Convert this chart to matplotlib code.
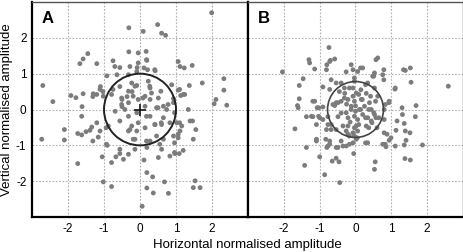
import matplotlib
matplotlib.use("Agg")
import matplotlib.pyplot as plt
from matplotlib.patches import Circle

plt.rcParams['font.family'] = ['Liberation Sans', 'DejaVu Sans']
plt.rcParams['axes.unicode_minus'] = False

# Panel A points (horizontal, vertical normalised amplitude)
a_x = [-0.31, 1.99, 0.49, 0.09, 0.6, 0.71,
       -0.31, -0.05, 0.17, -1.45, -1.58, -1.67, -1.2, -0.75, -0.7, -0.56, -0.28, -0.08, 0.19, -0.05, 0.11, 0.21, 0.42, 1.06, 1.11, 1.23, 1.45, -0.92, -0.64, -0.09, -0.32, 0.18, 0.41,
       -2.7, -2.42, -1.92, -1.78, -1.58, -1.31, -1.3, -1.1, -1.03, -0.75, -0.56, -0.5, -0.36, -0.22, -0.5, -1.61, -1.11, -1.02, -1.2, -0.79, -0.51, -0.32, -0.14, -0.51, -0.32, -0.42, -0.69, -0.32, -0.09,
       2.33, 1.73, 1.37, 1.06, 1.2, 1.13, 0.88, 2.33, 2.11, 2.06, 2.41, 1.34, 0.58, 0.93, 0.93, 1.1, 1.24,
       -0.23, -0.09, 0.23, 0.28, 0.32, 0.14, -0.19, -0.05, 0.28, 0.51, 0.65, 0.46, 0.74, 0.28, 0.14, 0.27, 0.08, 0.5, 0.78, 0.96, 0.18,
       -1.62, -2.1, -2.73, -2.1, -1.73, -1.62, -1.5, -1.39, -1.34, -1.2, -1.11, -1.16, -1.31, -0.94, -0.91, -1.05, -0.79, -0.67, -0.56, -0.46, -0.32, -1.73, -1.02, -0.79, -0.56, -0.32, -0.19, -0.88, -0.23, -0.28, -0.09, -0.14, -0.93, -0.56,
       1.39, 1.46, 1.55, 1.48, 1.2, 1.09, 0.97, 0.83, 0.6, 0.51, 0.11, 0.19, 0.35, 0.68, 0.19, 0.37, 0.79, 1.53, 1.48, 1.67, 0.06, 1.11, 1.06, 0.93, 1.02, 1.16, 0.65, 0.46, 0.28, 0.19, -0.14, 0.83, 0.6, 0.42, 0.14, -0.05, 0.65, 0.41, 0.59, 1.1, 1.06, 0.18, 0.55, 0.96, 0.96]
a_y = [2.28, 2.7, 2.37, 2.18, 2.13, 2.07,
       1.61, 1.58, 1.62, 1.56, 1.41, 1.28, 1.28, 1.36, 1.2, 1.17, 1.2, 1.17, 1.37, 1.3, 1.16, 1.11, 1.08, 1.34, 1.2, 1.16, 1.23, 0.94, 0.97, 1.06, 0.97, 1.39, 1.11,
       0.67, 0.22, 0.39, 0.33, 0.44, 0.36, 0.44, 0.64, 0.5, 0.56, 0.64, 0.28, 0.36, 0.5, 0.08, 0.08, 0.56, 0.37, 0.42, 0.42, 0.32, 0.51, 0.65, 0.14, 0.19, 0.0, -0.05, -0.19, -0.09,
       0.86, 0.74, 0.67, 0.54, 0.42, 0.39, 0.69, 0.54, 0.28, 0.16, 0.12, 0.0, 0.51, 0.3, 0.19, 0.56, 0.42,
       0.74, 0.67, 0.79, 0.6, 0.46, 0.37, 0.37, 0.28, 0.28, 0.32, 0.09, 0.05, 0.0, -0.19, 0.09, 0.65, 0.32, 0.05, 0.14, -0.09, -0.19,
       -0.19, -0.56, -0.83, -0.85, -0.67, -0.71, -0.62, -0.58, -0.49, -0.37, -0.6, -0.77, -0.88, -0.51, -1.0, -1.32, -1.48, -1.32, -1.23, -1.39, -1.25, -1.51, -2.02, -2.15, -0.32, -0.6, -0.83, -0.46, -0.46, -0.56, -0.6, -0.83, -0.97, -1.11,
       -0.32, -0.32, -0.56, -0.83, -1.14, -1.23, -1.23, -1.3, -1.11, -1.34, -1.41, -1.76, -1.88, -2.02, -2.19, -2.33, -2.34, -1.99, -2.18, -2.18, -2.7, -0.6, -0.79, -0.74, -0.37, -0.46, -0.83, -0.74, -0.88, -1.06, -1.11, -0.37, -0.42, -0.42, -0.51, -0.37, -0.23, -0.42, -0.37, -0.37, -0.69, -0.88, -0.97, -0.93, -1.2]

# Panel B points
b_x = [-0.74, -1.3, -1.28, -0.7, -0.58, -0.8, -1.14, -2.04, -0.26, -1.46, -1.57, -0.68, -0.54, -0.4, -0.91, -0.72, -1.57, -1.19, -1.62, -1.6, -1.07, -0.91, -0.58, -0.49, -0.4, -0.31, -1.37, -1.19, -1.0, -0.77, -0.49,
       -1.69, -1.09, -0.77, -0.68, -1.09, -0.83, -0.72, -0.8, -0.49, -0.35, -1.37, -1.0, -1.42, -0.65, -0.54, -0.46, -0.86, -0.44, -0.17, -0.07, -0.26,
       0.62, 0.57, 1.39, 1.53, 1.55, 1.1, 2.59, 1.69, 1.31, 1.67, 0.94, 0.8, 0.76, 0.79, 0.53, 0.48, 0.2, 0.06, -0.07, -0.03, 0.34, 0.53, 0.62, 0.16,
       -0.17, -0.07, 0.02, -0.21, -0.12, 0.11, 0.25, 0.39, 0.44, 0.53, -0.26, -0.03, 0.2, 0.34,
       1.36, 1.13, 1.52, 1.41, 1.36, 1.87, 1.38, 1.53, 0.55, 0.53, -0.05, 0.99, 0.94, 0.8, 0.76, 0.85, 0.34, 0.3, 0.44, 0.57, 0.8, -0.21, 0.02, 0.06, -0.07, 0.02, -0.26, 0.06,
       -0.72, -0.81, -0.12, -1.14, -1.03, -0.63, -0.54, -1.23, -1.03, -0.91, -0.68, -0.81, -0.54, -0.35, -0.21, -0.12, -0.03, -0.07, -0.03, -0.31, -1.09, -0.72, -0.77, -0.54, -0.4, -0.17, -0.21, -0.03, -0.03,
       0.14, 0.79, 1.34, 1.11, 0.51, 0.28, 0.93, 0.83, 1.3, 1.16, 1.39, 0.88, 0.83, 0.28, 0.05, 1.11,
       0.09, 0.19, 0.42, 0.56, 0.14, 0.37, 0.51, 0.28, 0.09, 0.46, 0.65, 0.37, 0.6,
       -0.3, -0.45, -0.25, 0.0, -0.15, 0.15, 0.3, -0.4, 0.0]
b_y = [1.73, 1.39, 1.3, 1.37, 1.41, 1.25, 1.13, 1.05, 1.05, 0.86, 0.67, 0.83, 0.74, 0.74, 0.63, 0.56, 0.3, 0.23, 0.11, 0.05, 0.05, 0.07, 0.11, 0.19, 0.23, 0.32, -0.2, -0.2, -0.23, -0.2, -0.2,
       -0.54, -0.42, -0.42, -0.56, -0.88, -0.83, -0.97, -1.06, -1.06, -1.02, -1.06, -1.32, -1.56, -1.44, -1.36, -1.46, -1.82, -2.04, -0.74, -0.93, -0.6,
       1.44, 1.39, 1.09, 1.16, 0.76, 0.57, 0.65, 0.11, -0.14, -0.2, 0.23, 0.0, 0.97, 0.83, 1.02, 0.93, 1.16, 1.06, 1.11, 0.88, 0.74, 0.6, 0.37, 0.28,
       0.6, 0.37, 0.46, 0.28, 0.09, 0.0, 0.09, 0.19, 0.0, -0.14, -0.09, -0.19, -0.14, -0.23,
       -0.39, -0.58, -0.65, -0.86, -0.99, -0.99, -1.37, -1.41, -1.46, -1.67, -1.23, -0.79, -0.86, -0.65, -0.97, -1.04, -0.93, -0.46, -0.32, -0.23, -0.28, -0.46, -0.46, -0.6, -0.65, -0.83, -1.02, -0.28,
       1.34, 1.11, 1.25, 0.23, 0.05, 0.14, 0.19, -0.19, -0.19, -0.28, -0.42, -0.56, -0.56, -0.46, -0.23, 0.0, 0.23, 0.6, 0.79, 0.6, -0.83, -0.88, -1.02, -1.06, -0.88, -0.97, -0.69, -0.74, -0.51,
       1.16, 1.11, 1.11, 0.6, 0.93, 0.69, 0.19, 0.14, 0.05, -0.32, -0.6, -0.69, -0.97, -0.93, -0.79, -1.02,
       0.42, 0.28, 0.37, 0.23, 0.0, 0.0, -0.09, -0.23, -0.42, -0.37, -0.23, -0.51, -0.51,
       0.45, 0.5, 0.15, 0.1, -0.35, 0.55, 0.45, -0.1, -0.05]

ticks = [-2, -1, 0, 1, 2]
circle_a = (0.0, 0.0, 1.0)
circle_b = (0.0, 0.0, 0.78)

fig = plt.figure(figsize=(4.64, 2.52), dpi=100)
axA = fig.add_axes([32/464, 1-217/252, 216/464, 215/252])
axB = fig.add_axes([248/464, 1-217/252, 215/464, 215/252])

pt_color = '#7c7c7c'
for ax, xs, ys, circ, label in [(axA, a_x, a_y, circle_a, 'A'), (axB, b_x, b_y, circle_b, 'B')]:
    ax.set_xlim(-3, 3)
    ax.set_ylim(-3, 3)
    ax.set_xticks(ticks)
    ax.set_yticks(ticks)
    ax.grid(True, color='#b0b0b0', linestyle=(0, (1.5, 1.5)), linewidth=0.8)
    ax.set_axisbelow(True)
    ax.scatter(xs, ys, s=12, color=pt_color, edgecolors='none', zorder=3)
    ax.add_patch(Circle((circ[0], circ[1]), circ[2], fill=False,
                        edgecolor='#222222' if label == 'A' else '#444444',
                        linewidth=1.4 if label == 'A' else 1.2, zorder=4))
    ax.tick_params(length=0, labelsize=8.5, pad=4, colors='black')
    ax.text(0.045, 0.96, label, transform=ax.transAxes, fontsize=12,
            fontweight='bold', va='top', ha='left')
    for s in ax.spines.values():
        s.set_color('#555555')
        s.set_linewidth(1.0)

axA.plot([0], [0], marker='+', markersize=8, color='#111111', mew=1.2, zorder=5)
for s in ['left', 'bottom', 'right']:
    axA.spines[s].set_color('black')
    axA.spines[s].set_linewidth(1.6)
for s in ['left', 'bottom']:
    axB.spines[s].set_color('black')
    axB.spines[s].set_linewidth(1.6)
axB.tick_params(labelleft=False)

fig.text(0.534, 0.005, 'Horizontal normalised amplitude', ha='center', va='bottom', fontsize=9.5)
fig.text(0.002, 0.565, 'Vertical normalised amplitude', ha='left', va='center',
         rotation=90, fontsize=9.5)

fig.savefig('out.png', dpi=100)
